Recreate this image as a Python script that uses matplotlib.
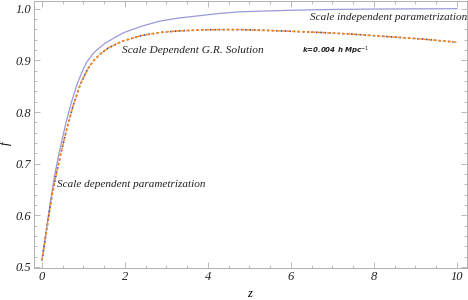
import numpy as np
import matplotlib.pyplot as plt
from matplotlib.ticker import MultipleLocator, FormatStrFormatter

# growth rate f(z)
z_indep = np.array([0.0, 0.1, 0.2, 0.3, 0.4, 0.5, 0.6, 0.71, 0.85, 1.0, 1.09, 1.25,
                    1.5, 1.75, 1.98, 2.4, 2.84, 3.3, 3.8, 4.3, 4.77, 5.4, 6.0, 7.0,
                    8.0, 9.0, 10.0])
f_indep = np.array([0.513, 0.570, 0.625, 0.675, 0.716, 0.752, 0.786, 0.819, 0.855,
                    0.884, 0.898, 0.915, 0.932, 0.944, 0.954, 0.966, 0.976, 0.982,
                    0.9865, 0.991, 0.994, 0.9955, 0.997, 0.9985, 0.9993, 0.9997, 1.0])

z_dep = np.array([0.0, 0.1, 0.2, 0.265, 0.35, 0.42, 0.5, 0.6, 0.75, 0.93, 1.1, 1.24,
                  1.4, 1.6, 1.93, 2.4, 2.84, 3.3, 3.8, 4.3, 4.77, 5.4, 6.0, 6.7, 7.42,
                  8.5, 9.2, 10.0])
f_dep = np.array([0.513, 0.565, 0.618, 0.649, 0.682, 0.707, 0.735, 0.768, 0.812,
                  0.855, 0.883, 0.899, 0.912, 0.924, 0.937, 0.948, 0.954, 0.957,
                  0.9588, 0.9595, 0.9595, 0.958, 0.9563, 0.954, 0.951, 0.945, 0.941,
                  0.935])

serif = ['Liberation Serif', 'DejaVu Serif']
gray = '#b0b0b0'

fig = plt.figure(figsize=(4.68, 3.0), dpi=100)
ax = fig.add_axes([0.0726, 0.1067, 0.925, 0.891])

ax.plot(z_indep, f_indep, '-', color='#9a9ad8', lw=0.9)
ax.plot(z_dep, f_dep, ':', color='#4a4a9a', lw=1.2)
ax.plot(z_dep, f_dep, '--', color='#ff8c1a', lw=1.1, dashes=(2.0, 1.3))

ax.set_xlim(-0.193, 10.24)
ax.set_ylim(0.498, 1.0155)

ax.xaxis.set_major_locator(MultipleLocator(2))
ax.xaxis.set_minor_locator(MultipleLocator(0.5))
ax.yaxis.set_major_locator(MultipleLocator(0.1))
ax.yaxis.set_minor_locator(MultipleLocator(0.02))
ax.yaxis.set_major_formatter(FormatStrFormatter('%.1f'))
ax.xaxis.set_major_formatter(FormatStrFormatter('%d'))

ax.tick_params(which='both', direction='in', top=True, right=True, color=gray, width=0.6)
ax.tick_params(which='major', length=4, pad=2)
ax.tick_params(which='minor', length=2)
for lab in ax.get_xticklabels() + ax.get_yticklabels():
    lab.set_family(serif)
    lab.set_style('italic')
    lab.set_fontsize(9)
    lab.set_color('#222222')
for s in ax.spines.values():
    s.set_color(gray)
    s.set_linewidth(0.7)

ax.set_xlabel('z', family=serif, style='italic', fontsize=9)
ax.set_ylabel('f', family=serif, style='italic', fontsize=9)
ax.xaxis.set_label_coords(0.499, -0.075)
ax.yaxis.set_label_coords(-0.05, 0.466)

ax.text(6.45, 0.9825, 'Scale independent parametrization', family=serif, style='italic',
        fontsize=8, color='#222222', va='center')
ax.text(1.93, 0.9185, 'Scale Dependent G.R. Solution', family=serif, style='italic',
        fontsize=8.2, color='#222222', va='center')
ax.text(6.26, 0.9185, 'k=0.004 h Mpc$^{-1}$', fontsize=5,
        fontweight='bold', style='italic', color='#222222', va='center')
ax.text(0.36, 0.659, 'Scale dependent parametrization', family=serif, style='italic',
        fontsize=8, color='#222222', va='center')

fig.savefig('out.png', dpi=100)
